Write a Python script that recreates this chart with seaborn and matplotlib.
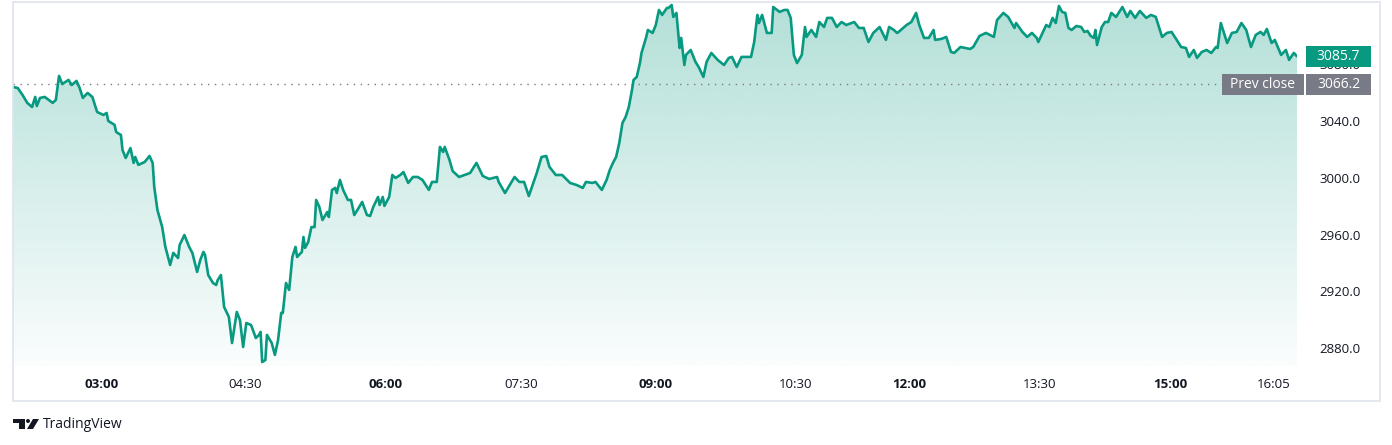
import numpy as np
import pandas as pd
import seaborn as sns
import matplotlib.pyplot as plt
from matplotlib import transforms
from matplotlib.colors import to_rgb
from matplotlib.patches import Rectangle, Polygon, Circle

# bar index (about 1 min per bar, session gaps removed) and price
bars = [0, 3, 6, 9, 12, 14, 15, 17, 20, 25, 27, 29, 31, 35, 37, 40, 42, 44, 47, 50,
        53, 57, 59, 60, 64, 65, 68, 69, 71, 74, 76, 77, 79, 83, 86, 88, 89, 91, 94, 96,
        99, 101, 104, 105, 108, 111, 113, 116, 118, 120, 121, 123, 126, 128, 129, 131, 133, 136, 138, 141,
        143, 145, 147, 150, 153, 155, 156, 157, 159, 160, 163, 165, 167, 169, 170, 172, 174, 176, 178, 179,
        182, 183, 184, 186, 188, 190, 191, 193, 195, 198, 199, 201, 203, 204, 206, 208, 211, 213, 215, 217,
        220, 223, 225, 227, 230, 231, 233, 234, 237, 239, 241, 244, 246, 249, 252, 255, 258, 262, 264, 267,
        269, 271, 272, 275, 277, 281, 288, 292, 296, 300, 305, 306, 310, 316, 319, 322, 325, 330, 333, 336,
        338, 342, 346, 351, 355, 359, 361, 365, 367, 371, 374, 376, 378, 380, 382, 384, 386, 388, 390, 391,
        393, 395, 396, 399, 400, 403, 405, 407, 409, 412, 413, 415, 416, 418, 420, 421, 423, 424, 427, 430,
        432, 435, 437, 440, 444, 448, 451, 453, 456, 459, 462, 465, 467, 469, 470, 472, 475, 478, 479, 483,
        486, 488, 490, 492, 494, 497, 499, 500, 503, 506, 508, 511, 513, 516, 519, 522, 525, 530, 533, 536,
        539, 542, 546, 550, 552, 555, 557, 558, 563, 566, 569, 571, 574, 577, 580, 581, 585, 588, 591, 593,
        597, 600, 603, 605, 609, 613, 618, 620, 624, 627, 631, 632, 636, 639, 642, 645, 646, 651, 653, 655,
        657, 659, 661, 663, 665, 667, 670, 673, 675, 677, 679, 681, 682, 683, 686, 688, 690, 692, 695, 699,
        702, 704, 707, 710, 714, 717, 720, 722, 724, 727, 730, 732, 736, 739, 741, 744, 746, 749, 752, 755,
        758, 759, 761, 763, 765, 768, 771, 774, 777, 780, 783, 786, 788, 790, 793, 795, 799, 802, 804, 807,
        809]
prices = [3064.1, 3063.4, 3058.5, 3052.9, 3050.0, 3057.1, 3050.7, 3056.4, 3057.1, 3052.9,
          3055.0, 3071.9, 3066.2, 3069.1, 3065.5, 3068.4, 3063.4, 3056.4, 3059.9, 3057.1,
          3046.5, 3044.4, 3045.8, 3040.2, 3037.4, 3032.4, 3030.3, 3019.7, 3014.1, 3021.1,
          3010.6, 3014.8, 3009.2, 3011.3, 3015.5, 3010.6, 2993.7, 2977.4, 2965.4, 2951.4,
          2938.7, 2947.2, 2943.6, 2952.8, 2959.8, 2951.4, 2947.2, 2933.8, 2942.2, 2947.9,
          2945.7, 2931.6, 2926.0, 2924.6, 2928.1, 2931.6, 2909.1, 2902.1, 2883.7, 2905.6,
          2899.9, 2880.9, 2897.8, 2896.4, 2887.2, 2889.4, 2891.5, 2870.3, 2871.7, 2889.4,
          2883.7, 2875.3, 2885.8, 2904.9, 2904.9, 2926.0, 2921.1, 2944.3, 2951.4, 2944.3,
          2947.9, 2958.4, 2950.7, 2954.9, 2965.4, 2965.4, 2984.5, 2979.6, 2970.4, 2976.0,
          2972.5, 2991.6, 2993.0, 2989.4, 2998.6, 2991.6, 2984.5, 2984.5, 2973.9, 2977.4,
          2983.1, 2973.9, 2973.2, 2979.6, 2986.6, 2981.0, 2986.6, 2980.3, 2986.6, 3002.1,
          3000.0, 3002.1, 3004.2, 2996.5, 3000.7, 3000.7, 2998.6, 2991.6, 2997.2, 2997.2,
          3021.9, 3018.3, 3021.9, 3012.7, 3004.9, 3000.7, 3003.5, 3010.6, 3001.4, 2999.3,
          3000.7, 2997.2, 2989.4, 3000.7, 2997.2, 2997.2, 2987.3, 3003.5, 3014.8, 3015.5,
          3007.8, 3002.1, 3002.1, 2996.5, 2995.1, 2993.0, 2997.2, 2996.5, 2997.2, 2991.6,
          2998.6, 3005.6, 3010.6, 3014.8, 3024.7, 3038.8, 3043.0, 3050.0, 3062.0, 3069.1,
          3071.2, 3081.0, 3088.1, 3099.4, 3104.3, 3102.2, 3107.8, 3118.4, 3114.9, 3119.8,
          3119.8, 3121.9, 3113.5, 3116.3, 3091.6, 3098.7, 3079.6, 3086.7, 3090.2, 3081.8,
          3078.2, 3071.2, 3081.8, 3088.1, 3083.2, 3079.6, 3084.6, 3085.3, 3078.2, 3085.3,
          3085.3, 3085.3, 3095.8, 3114.9, 3109.2, 3114.9, 3102.2, 3102.2, 3120.5, 3117.0,
          3118.4, 3118.4, 3112.8, 3086.7, 3081.0, 3086.7, 3106.4, 3099.4, 3104.3, 3099.4,
          3109.9, 3106.4, 3112.8, 3112.8, 3106.4, 3109.9, 3107.8, 3109.9, 3105.7, 3105.7,
          3095.8, 3102.2, 3106.4, 3097.3, 3106.4, 3104.3, 3102.2, 3102.9, 3107.8, 3109.9,
          3116.3, 3107.8, 3098.7, 3098.7, 3104.3, 3097.3, 3098.0, 3099.4, 3088.8, 3088.1,
          3092.3, 3091.6, 3090.9, 3092.3, 3100.1, 3102.2, 3099.4, 3111.3, 3116.3, 3113.5,
          3105.7, 3109.2, 3102.9, 3099.4, 3102.2, 3098.7, 3095.8, 3107.8, 3106.4, 3112.8,
          3109.2, 3121.2, 3117.0, 3116.3, 3105.7, 3104.3, 3107.1, 3106.4, 3102.9, 3103.6,
          3100.1, 3098.7, 3104.3, 3093.7, 3106.4, 3109.9, 3109.9, 3116.3, 3113.5, 3120.5,
          3113.5, 3117.7, 3112.8, 3117.7, 3112.8, 3114.9, 3113.5, 3106.4, 3099.4, 3102.2,
          3102.9, 3099.4, 3092.3, 3091.6, 3085.3, 3090.2, 3084.6, 3088.8, 3090.2, 3088.1,
          3092.3, 3091.6, 3109.2, 3102.2, 3095.1, 3102.2, 3102.9, 3109.2, 3104.3, 3092.3,
          3100.8, 3102.9, 3100.8, 3105.0, 3095.1, 3097.3, 3086.7, 3090.2, 3083.2, 3088.1,
          3085.7]

tick_bars = [56, 146, 235, 320, 405, 493, 565, 647, 729, 794]
tick_labels = ["03:00", "04:30", "06:00", "07:30", "09:00", "10:30", "12:00", "13:30", "15:00", "16:05"]
bold_labels = ["03:00", "06:00", "09:00", "12:00", "15:00"]
price_ticks = [2880, 2920, 2960, 3000, 3040, 3080]

last_price = 3085.7
prev_close = 3066.2

GREEN = "#089981"
GRAY = "#787b86"
TEXT = "#131722"
W, H = 1392, 445
y_lo, y_hi = 2867.5, 3123.3

sns.set_theme(style="white")
plt.rcParams['font.family'] = ['Open Sans', 'DejaVu Sans']

fig = plt.figure(figsize=(W / 100, H / 100), dpi=100)
ax = fig.add_axes([13 / W, 79 / H, 1284 / W, 363 / H])

df = pd.DataFrame({"bar": bars, "price": prices})
sns.lineplot(data=df, x="bar", y="price", estimator=None, sort=False,
             color=GREEN, linewidth=1.9, ax=ax, zorder=4)

# gradient area under the line
coll = ax.fill_between(bars, prices, y_lo, facecolor="none", edgecolor="none")
grad = np.zeros((256, 1, 4))
grad[:, 0, :3] = to_rgb(GREEN)
grad[:, 0, 3] = np.linspace(0.31, 0.02, 256)
im = ax.imshow(grad, extent=[0, bars[-1], y_lo, y_hi], aspect="auto",
               origin="upper", zorder=1)
im.set_clip_path(coll.get_paths()[0], ax.transData)

# prev close dotted line
ax.axhline(prev_close, color=GRAY, lw=1, ls=(0, (1, 4)), zorder=3)

ax.set_xlim(0, bars[-1])
ax.set_ylim(y_lo, y_hi)
ax.set_xlabel("")
ax.set_ylabel("")
for s in ax.spines.values():
    s.set_visible(False)
ax.grid(False)

ax.set_xticks(tick_bars)
ax.set_xticklabels(tick_labels)
ax.tick_params(axis="x", length=0, pad=9, labelsize=9.5, labelcolor=TEXT)
for lbl in ax.get_xticklabels():
    lbl.set_fontweight("bold" if lbl.get_text() in bold_labels else "normal")

ax.yaxis.tick_right()
ax.set_yticks(price_ticks)
ax.set_yticklabels([f"{v:.1f}" for v in price_ticks])
ax.tick_params(axis="y", length=0, pad=16, labelsize=9.5, labelcolor=TEXT)

# price labels on the right scale
blend = transforms.blended_transform_factory(ax.transAxes, ax.transData)
box_h = 14.8
ax.add_patch(Rectangle((1.007, last_price - box_h / 2), 0.0506, box_h, transform=blend,
                       facecolor=GREEN, edgecolor="none", clip_on=False, zorder=6))
ax.text(1.0323, last_price, f"{last_price:.1f}", transform=blend, ha="center", va="center",
        color="white", fontsize=10, zorder=7, clip_on=False)
ax.add_patch(Rectangle((0.9416, prev_close - box_h / 2), 0.0638, box_h, transform=blend,
                       facecolor=GRAY, edgecolor="none", clip_on=False, zorder=6))
ax.text(0.9735, prev_close, "Prev close", transform=blend, ha="center", va="center",
        color="white", fontsize=10, zorder=7, clip_on=False)
ax.add_patch(Rectangle((1.007, prev_close - box_h / 2), 0.0506, box_h, transform=blend,
                       facecolor=GRAY, edgecolor="none", clip_on=False, zorder=6))
ax.text(1.0323, prev_close, f"{prev_close:.1f}", transform=blend, ha="center", va="center",
        color="white", fontsize=10, zorder=7, clip_on=False)

# outer frame
fig.add_artist(Rectangle((12.5 / W, 44 / H), 1367 / W, 399 / H, transform=fig.transFigure,
                         fill=False, edgecolor="#e0e3eb", lw=1.2))

# TradingView logo
px = transforms.Affine2D().scale(1 / W, 1 / H) + fig.transFigure
fig.add_artist(Polygon([(13, 445 - 419), (25, 445 - 419), (25, 445 - 429), (19, 445 - 429),
                        (19, 445 - 423), (13, 445 - 423)], closed=True, transform=px,
                       facecolor=TEXT, edgecolor="none"))
fig.add_artist(Circle((28, 445 - 421), 2, transform=px, facecolor=TEXT, edgecolor="none"))
fig.add_artist(Polygon([(33, 445 - 419), (39, 445 - 419), (33, 445 - 429), (27, 445 - 429)],
                       closed=True, transform=px, facecolor=TEXT, edgecolor="none"))
fig.text(43 / W, 1 - 424 / H, "TradingView", ha="left", va="center", fontsize=10, color=TEXT)

fig.savefig("out.png", dpi=100)
